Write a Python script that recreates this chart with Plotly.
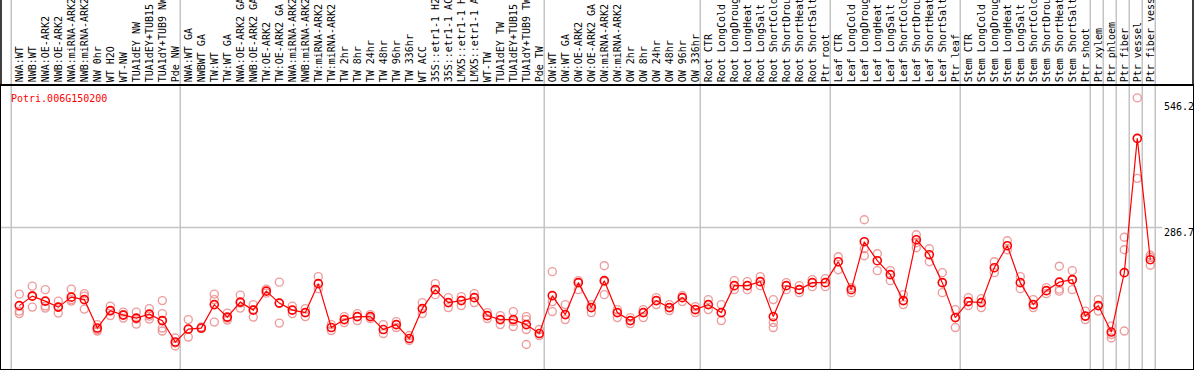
import plotly.graph_objects as go

gene = "Potri.006G150200"

labels = [
    "NWA:WT", "NWB:WT", "NWA:OE-ARK2", "NWB:OE-ARK2", "NWA:miRNA-ARK2", "NWB:miRNA-ARK2",
    "NW 0hr", "WT H2O", "WT-NW", "TUA1dEY NW", "TUA1dEY+TUB15 NW", "TUA1dY+TUB9 NW", "Pde NW",
    "NWA:WT GA", "NWBWT GA", "TW:WT", "TW:WT GA", "NWA:OE-ARK2 GA", "NWB:OE-ARK2 GA",
    "TW:OE-ARK2", "TW:OE-ARK2 GA", "NWA:miRNA-ARK2", "NWB:miRNA-ARK2", "TW:miRNA-ARK2",
    "TW:miRNA-ARK2", "TW 2hr", "TW 8hr", "TW 24hr", "TW 48hr", "TW 96hr", "TW 336hr", "WT ACC",
    "35S::etr1-1 H2O", "35S::etr1-1 ACC", "LMX5::etr1-1 H2O", "LMX5::etr1-1 ACC", "WT-TW",
    "TUA1dEY TW", "TUA1dEY+TUB15 TW", "TUA1dY+TUB9 TW", "Pde TW",
    "OW:WT", "OW:WT GA", "OW:OE-ARK2", "OW:OE-ARK2 GA", "OW:miRNA-ARK2", "OW:miRNA-ARK2",
    "OW 2hr", "OW 8hr", "OW 24hr", "OW 48hr", "OW 96hr", "OW 336hr",
    "Root CTR", "Root LongCold", "Root LongDrought", "Root LongHeat", "Root LongSalt",
    "Root ShortCold", "Root ShortDrought", "Root ShortHeat", "Root ShortSalt", "Ptr root",
    "Leaf CTR", "Leaf LongCold", "Leaf LongDrought", "Leaf LongHeat", "Leaf LongSalt",
    "Leaf ShortCold", "Leaf ShortDrought", "Leaf ShortHeat", "Leaf ShortSalt", "Ptr leaf",
    "Stem CTR", "Stem LongCold", "Stem LongDrought", "Stem LongHeat", "Stem LongSalt",
    "Stem ShortCold", "Stem ShortDrought", "Stem ShortHeat", "Stem ShortSalt", "Ptr shoot",
    "Ptr xylem", "Ptr phloem", "Ptr fiber", "Ptr vessel", "Ptr fiber vessel",
]

group_sizes = [13, 28, 12, 10, 10, 10, 1, 1, 1, 1, 1]

means = [
    130, 149, 139, 127, 147, 142, 85, 120, 111, 105, 113, 100, 57,
    83, 85, 132, 107, 137, 121, 159, 135, 121, 116, 174, 86, 102, 108, 108, 82, 92, 64, 124,
    162, 136, 140, 146, 110, 102, 102, 92, 74,
    150, 112, 176, 126, 180, 116, 100, 116, 140, 126, 146, 122,
    132, 116, 170, 170, 178, 108, 170, 162, 176, 176,
    218, 162, 258, 220, 192, 140, 262, 232, 176, 106,
    138, 136, 206, 250, 176, 132, 160, 177, 182, 109,
    130, 77, 196, 465, 222,
]

replicates = [
    [153, 119, 114], [169, 150, 127], [162, 129, 125], [139, 127, 115], [163, 139, 142],
    [154, 149, 123], [92, 79, 82], [129, 110, 119], [117, 105, 112], [117, 93, 103],
    [124, 103, 109], [140, 114, 100, 85, 79], [65, 49, 55],
    [102, 67, 82], [87, 84], [153, 97, 142], [115, 101, 105], [151, 125, 135], [132, 107, 122],
    [163, 155], [177, 95, 135], [129, 114], [124, 108], [188, 164], [92, 80], [108, 96],
    [114, 100], [112, 104], [92, 74], [98, 86], [70, 60], [136, 114], [174, 152], [146, 126],
    [148, 130], [154, 136], [116, 104], [110, 92], [118, 88, 98], [108, 82, 52, 102], [82, 70],
    [198, 138, 118], [132, 102], [180, 162], [132, 116], [210, 178, 152], [122, 106],
    [106, 94], [122, 106], [146, 132], [132, 120], [150, 138], [128, 116],
    [142, 122], [132, 100], [180, 162], [178, 162], [188, 170], [142, 96, 86], [176, 162],
    [170, 156], [182, 168], [184, 168],
    [228, 202], [166, 156], [302, 244, 230], [234, 200], [200, 180], [152, 132],
    [272, 256, 246], [244, 218], [196, 176, 156], [122, 86],
    [146, 130], [144, 126], [218, 196], [260, 242], [188, 164], [142, 126], [166, 154],
    [209, 159, 163], [200, 162, 182], [119, 102, 109],
    [142, 119, 130], [89, 65, 72], [267, 242, 79], [546.2, 385, 465], [231, 211, 227],
]

ytick_vals = [546.2, 286.7, 0]
ytick_text = ["546.2", "286.7", "0"]

# ---- layout geometry ----
W, H = 1194, 370
ML, MR, MT, MB = 1, 1, 86, 1
step_px = 13.0
plot_w = W - ML - MR
plot_h = H - MT - MB
xmin = -1.408
xmax = xmin + plot_w / step_px
yrange = [3, 570]

n = len(labels)
xs = list(range(n))

rx, ry = [], []
for i, r in enumerate(replicates):
    for v in r:
        rx.append(i)
        ry.append(v)

MONO = "DejaVu Sans Mono"

fig = go.Figure()
fig.add_trace(go.Scatter(
    x=rx, y=ry, mode="markers",
    marker=dict(symbol="circle-open", size=8, color="rgba(234,140,140,0.85)",
                line=dict(width=1.4, color="rgba(234,140,140,0.85)")),
    hoverinfo="skip", showlegend=False,
))
fig.add_trace(go.Scatter(
    x=xs, y=means, mode="lines+markers",
    line=dict(color="#ff0000", width=1.2),
    marker=dict(symbol="circle-open", size=8, color="#ff0000",
                line=dict(width=1.6, color="#ff0000")),
    showlegend=False,
))


def xpaper(v):
    return (v - xmin) / (xmax - xmin)


top_paper = 1 + MT / plot_h
shapes = []
# group separators
b = 0
bounds = [0]
for g in group_sizes:
    b += g
    bounds.append(b)
for bd in bounds:
    px = xpaper(bd - 0.62)
    shapes.append(dict(type="line", xref="paper", yref="paper", x0=px, x1=px,
                       y0=0, y1=top_paper, line=dict(color="#c4c4c4", width=1.5), layer="below"))
# horizontal grid line at middle tick
shapes.append(dict(type="line", xref="paper", yref="y", x0=0, x1=xpaper(bounds[-1] - 0.62) + 7 / plot_w,
                   y0=ytick_vals[1], y1=ytick_vals[1], line=dict(color="#c4c4c4", width=1.5), layer="below"))
# outer border of label area
for px in (0, 1):
    shapes.append(dict(type="line", xref="paper", yref="paper", x0=px, x1=px, y0=1, y1=top_paper,
                       line=dict(color="black", width=1.5)))

annotations = [dict(text=gene, xref="paper", yref="paper", x=8 / plot_w, y=1, xanchor="left",
                    yanchor="top", yshift=-5, showarrow=False,
                    font=dict(family=MONO, size=10, color="#ff0000"))]
yshifts = [-9, -5, 9]
for v, t, s in zip(ytick_vals, ytick_text, yshifts):
    annotations.append(dict(text=t, xref="paper", yref="y", x=(1162 - ML) / plot_w, y=v,
                            xanchor="left", yanchor="middle", yshift=s, showarrow=False,
                            font=dict(family=MONO, size=10, color="black")))

fig.update_layout(
    width=W, height=H,
    margin=dict(l=ML, r=MR, t=MT, b=MB, pad=0),
    paper_bgcolor="white", plot_bgcolor="white",
    xaxis=dict(range=[xmin, xmax], side="top", tickmode="array", tickvals=xs, ticktext=labels,
               tickangle=-90, ticks="", showgrid=False, zeroline=False, showline=True,
               mirror=True, linecolor="black", linewidth=1.5, automargin=False,
               tickfont=dict(family=MONO, size=10, color="black")),
    yaxis=dict(range=yrange, showticklabels=False, ticks="", showgrid=False, zeroline=False,
               showline=True, mirror=True, linecolor="black", linewidth=1.5, automargin=False),
    shapes=shapes,
    annotations=annotations,
    font=dict(family=MONO),
)

fig.write_html("out.html",
               config={"displayModeBar": False},
               post_script="document.body.style.margin='0';document.body.style.overflow='hidden';")
